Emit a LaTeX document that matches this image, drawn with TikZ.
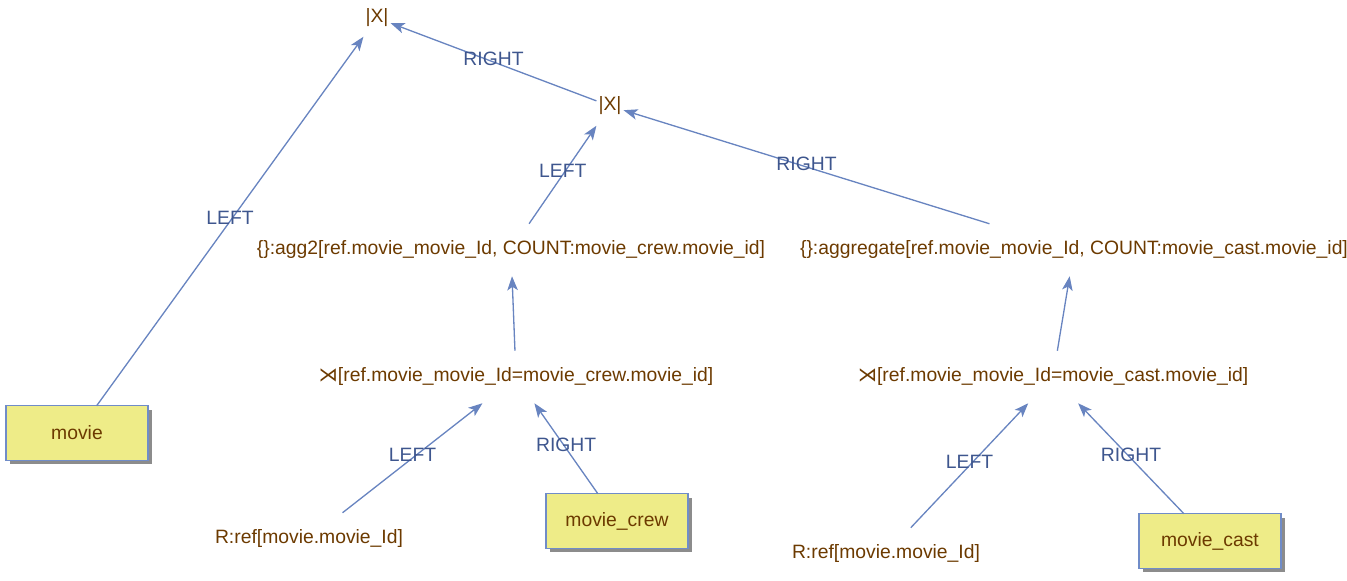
\documentclass[tikz,border=0pt]{standalone}
\usepackage{fontspec}
\setmainfont{Liberation Sans}
\newfontfamily\symfont{DejaVu Sans}
\usetikzlibrary{arrows.meta,shadows}

\definecolor{optext}{RGB}{108,58,0}
\definecolor{edgeblue}{RGB}{104,132,192}
\definecolor{labelblue}{RGB}{62,86,142}
\definecolor{relfill}{RGB}{238,236,136}
\definecolor{relborder}{RGB}{112,140,200}

\tikzset{
  op/.style={text=optext, font=\fontsize{11}{13}\selectfont,
    inner xsep=1pt, inner ysep=0pt, minimum height=29.5pt},
  rel/.style={draw=relborder, fill=relfill, text=optext, line width=0.8pt,
    font=\fontsize{11}{13}\selectfont, minimum width=81pt, minimum height=31pt,
    outer sep=0pt,
    drop shadow={shadow xshift=2.3pt, shadow yshift=-2.3pt, fill=black!45, opacity=1}},
  flow/.style={draw=edgeblue, line width=0.75pt, -{Stealth[length=8pt, width=6pt, inset=2pt]}},
  lbl/.style={text=labelblue, font=\fontsize{11}{13}\selectfont, inner sep=1pt, yshift=2pt}
}

\begin{document}
\begin{tikzpicture}[x=0.02cm, y=-0.02cm]
  \useasboundingbox (0,0) rectangle (1347,581);

  % joins and aggregates
  \node[op] (topjoin) at (377,18) {|X|};
  \node[op] (midjoin) at (610,106) {|X|};
  \node[op] (agg2) at (511,250) {\{\}:agg2[ref.movie\_movie\_Id, COUNT:movie\_crew.movie\_id]};
  \node[op] (aggcast) at (1074,250) {\{\}:aggregate[ref.movie\_movie\_Id, COUNT:movie\_cast.movie\_id]};
  \node[op] (semicrew) at (516,377) {{\symfont ⋊}[ref.movie\_movie\_Id=movie\_crew.movie\_id]};
  \node[op] (semicast) at (1053,377) {{\symfont ⋊}[ref.movie\_movie\_Id=movie\_cast.movie\_id]};
  \node[op] (refcrew) at (309,539) {R:ref[movie.movie\_Id]};
  \node[op] (refcast) at (886,554) {R:ref[movie.movie\_Id]};

  % base relations
  \node[rel] (movie) at (77,433) {movie};
  \node[rel] (crew) at (617,521) {movie\_crew};
  \node[rel] (cast) at (1210,541) {movie\_cast};

  % connectors
  \draw[flow] (movie) -- node[lbl] {LEFT} (topjoin);
  \draw[flow] (midjoin) -- node[lbl] {RIGHT} (topjoin);
  \draw[flow] (agg2) -- node[lbl] {LEFT} (midjoin);
  \draw[flow] (aggcast) -- node[lbl] {RIGHT} (midjoin);
  \draw[flow] (semicrew) -- (agg2);
  \draw[flow] (semicast) -- (aggcast);
  \draw[flow] (refcrew) -- node[lbl] {LEFT} (semicrew);
  \draw[flow] (crew) -- node[lbl] {RIGHT} (semicrew);
  \draw[flow] (refcast) -- node[lbl] {LEFT} (semicast);
  \draw[flow] (cast) -- node[lbl] {RIGHT} (semicast);
\end{tikzpicture}
\end{document}
